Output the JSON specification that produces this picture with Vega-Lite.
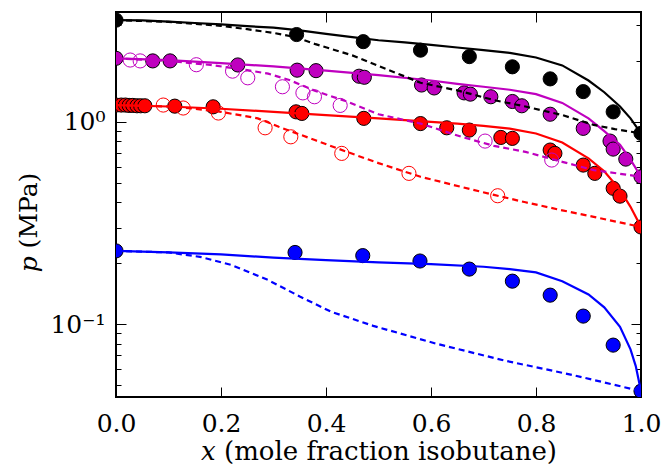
{
  "$schema": "https://vega.github.io/schema/vega-lite/v6.json",
  "width": 525,
  "height": 385,
  "autosize": {"type": "none"},
  "padding": {"left": 116, "top": 12, "right": 21, "bottom": 71},
  "background": "white",
  "datasets": {
    "pts": [
      {"s": "k", "f": "filled", "x": 0.0, "p": 3.18},
      {"s": "k", "f": "filled", "x": 0.344, "p": 2.70},
      {"s": "k", "f": "filled", "x": 0.471, "p": 2.49},
      {"s": "k", "f": "filled", "x": 0.580, "p": 2.26},
      {"s": "k", "f": "filled", "x": 0.673, "p": 2.10},
      {"s": "k", "f": "filled", "x": 0.755, "p": 1.87},
      {"s": "k", "f": "filled", "x": 0.827, "p": 1.63},
      {"s": "k", "f": "filled", "x": 0.890, "p": 1.41},
      {"s": "k", "f": "filled", "x": 0.947, "p": 1.12},
      {"s": "k", "f": "filled", "x": 1.0, "p": 0.877},
      {"s": "m", "f": "filled", "x": 0.0, "p": 2.06},
      {"s": "m", "f": "filled", "x": 0.07, "p": 2.0},
      {"s": "m", "f": "filled", "x": 0.103, "p": 2.0},
      {"s": "m", "f": "filled", "x": 0.232, "p": 1.91},
      {"s": "m", "f": "filled", "x": 0.345, "p": 1.80},
      {"s": "m", "f": "filled", "x": 0.381, "p": 1.79},
      {"s": "m", "f": "filled", "x": 0.463, "p": 1.68},
      {"s": "m", "f": "filled", "x": 0.473, "p": 1.66},
      {"s": "m", "f": "filled", "x": 0.582, "p": 1.52},
      {"s": "m", "f": "filled", "x": 0.606, "p": 1.47},
      {"s": "m", "f": "filled", "x": 0.663, "p": 1.39},
      {"s": "m", "f": "filled", "x": 0.675, "p": 1.37},
      {"s": "m", "f": "filled", "x": 0.714, "p": 1.33},
      {"s": "m", "f": "filled", "x": 0.755, "p": 1.26},
      {"s": "m", "f": "filled", "x": 0.773, "p": 1.20},
      {"s": "m", "f": "filled", "x": 0.827, "p": 1.09},
      {"s": "m", "f": "filled", "x": 0.890, "p": 0.928},
      {"s": "m", "f": "filled", "x": 0.941, "p": 0.803},
      {"s": "m", "f": "filled", "x": 0.947, "p": 0.733},
      {"s": "m", "f": "filled", "x": 0.971, "p": 0.654},
      {"s": "m", "f": "filled", "x": 1.0, "p": 0.535},
      {"s": "r", "f": "filled", "x": 0.0, "p": 1.21},
      {"s": "r", "f": "filled", "x": 0.01, "p": 1.21},
      {"s": "r", "f": "filled", "x": 0.018, "p": 1.21},
      {"s": "r", "f": "filled", "x": 0.025, "p": 1.205},
      {"s": "r", "f": "filled", "x": 0.032, "p": 1.205},
      {"s": "r", "f": "filled", "x": 0.04, "p": 1.20},
      {"s": "r", "f": "filled", "x": 0.047, "p": 1.20},
      {"s": "r", "f": "filled", "x": 0.055, "p": 1.20},
      {"s": "r", "f": "filled", "x": 0.112, "p": 1.195},
      {"s": "r", "f": "filled", "x": 0.185, "p": 1.186},
      {"s": "r", "f": "filled", "x": 0.343, "p": 1.12},
      {"s": "r", "f": "filled", "x": 0.354, "p": 1.10},
      {"s": "r", "f": "filled", "x": 0.472, "p": 1.04},
      {"s": "r", "f": "filled", "x": 0.580, "p": 0.98},
      {"s": "r", "f": "filled", "x": 0.630, "p": 0.934},
      {"s": "r", "f": "filled", "x": 0.673, "p": 0.91},
      {"s": "r", "f": "filled", "x": 0.733, "p": 0.837},
      {"s": "r", "f": "filled", "x": 0.755, "p": 0.828},
      {"s": "r", "f": "filled", "x": 0.827, "p": 0.725},
      {"s": "r", "f": "filled", "x": 0.836, "p": 0.698},
      {"s": "r", "f": "filled", "x": 0.890, "p": 0.611},
      {"s": "r", "f": "filled", "x": 0.912, "p": 0.556},
      {"s": "r", "f": "filled", "x": 0.947, "p": 0.469},
      {"s": "r", "f": "filled", "x": 0.960, "p": 0.429},
      {"s": "r", "f": "filled", "x": 1.0, "p": 0.302},
      {"s": "b", "f": "filled", "x": 0.0, "p": 0.230},
      {"s": "b", "f": "filled", "x": 0.341, "p": 0.226},
      {"s": "b", "f": "filled", "x": 0.470, "p": 0.218},
      {"s": "b", "f": "filled", "x": 0.579, "p": 0.205},
      {"s": "b", "f": "filled", "x": 0.673, "p": 0.187},
      {"s": "b", "f": "filled", "x": 0.755, "p": 0.163},
      {"s": "b", "f": "filled", "x": 0.827, "p": 0.139},
      {"s": "b", "f": "filled", "x": 0.890, "p": 0.1095},
      {"s": "b", "f": "filled", "x": 0.947, "p": 0.0787},
      {"s": "b", "f": "filled", "x": 1.0, "p": 0.0466},
      {"s": "m", "f": "open", "x": 0.027, "p": 2.02},
      {"s": "m", "f": "open", "x": 0.046, "p": 2.0},
      {"s": "m", "f": "open", "x": 0.153, "p": 1.915},
      {"s": "m", "f": "open", "x": 0.222, "p": 1.78},
      {"s": "m", "f": "open", "x": 0.251, "p": 1.65},
      {"s": "m", "f": "open", "x": 0.317, "p": 1.49},
      {"s": "m", "f": "open", "x": 0.356, "p": 1.39},
      {"s": "m", "f": "open", "x": 0.378, "p": 1.33},
      {"s": "m", "f": "open", "x": 0.427, "p": 1.205},
      {"s": "m", "f": "open", "x": 0.703, "p": 0.803},
      {"s": "m", "f": "open", "x": 0.830, "p": 0.647},
      {"s": "r", "f": "open", "x": 0.09, "p": 1.21},
      {"s": "r", "f": "open", "x": 0.128, "p": 1.17},
      {"s": "r", "f": "open", "x": 0.195, "p": 1.105},
      {"s": "r", "f": "open", "x": 0.284, "p": 0.934},
      {"s": "r", "f": "open", "x": 0.333, "p": 0.843},
      {"s": "r", "f": "open", "x": 0.430, "p": 0.698},
      {"s": "r", "f": "open", "x": 0.558, "p": 0.556},
      {"s": "r", "f": "open", "x": 0.727, "p": 0.431}
    ],
    "solid": [
      {"s": "k", "x": 0.0, "p": 3.18}, {"s": "k", "x": 0.05, "p": 3.17}, {"s": "k", "x": 0.1, "p": 3.13},
      {"s": "k", "x": 0.15, "p": 3.08}, {"s": "k", "x": 0.2, "p": 3.03}, {"s": "k", "x": 0.25, "p": 2.97},
      {"s": "k", "x": 0.3, "p": 2.92}, {"s": "k", "x": 0.35, "p": 2.83}, {"s": "k", "x": 0.4, "p": 2.72},
      {"s": "k", "x": 0.45, "p": 2.62}, {"s": "k", "x": 0.5, "p": 2.53}, {"s": "k", "x": 0.55, "p": 2.47},
      {"s": "k", "x": 0.6, "p": 2.40}, {"s": "k", "x": 0.65, "p": 2.33}, {"s": "k", "x": 0.7, "p": 2.26},
      {"s": "k", "x": 0.75, "p": 2.19}, {"s": "k", "x": 0.8, "p": 2.08}, {"s": "k", "x": 0.85, "p": 1.90},
      {"s": "k", "x": 0.9, "p": 1.60}, {"s": "k", "x": 0.93, "p": 1.40}, {"s": "k", "x": 0.96, "p": 1.19},
      {"s": "k", "x": 0.98, "p": 1.04}, {"s": "k", "x": 1.0, "p": 0.877},
      {"s": "m", "x": 0.0, "p": 2.06}, {"s": "m", "x": 0.1, "p": 2.02}, {"s": "m", "x": 0.2, "p": 1.95},
      {"s": "m", "x": 0.3, "p": 1.88}, {"s": "m", "x": 0.4, "p": 1.79}, {"s": "m", "x": 0.5, "p": 1.70},
      {"s": "m", "x": 0.6, "p": 1.60}, {"s": "m", "x": 0.65, "p": 1.54}, {"s": "m", "x": 0.7, "p": 1.49},
      {"s": "m", "x": 0.75, "p": 1.44}, {"s": "m", "x": 0.8, "p": 1.37}, {"s": "m", "x": 0.85, "p": 1.24},
      {"s": "m", "x": 0.9, "p": 1.04}, {"s": "m", "x": 0.93, "p": 0.90}, {"s": "m", "x": 0.96, "p": 0.77},
      {"s": "m", "x": 0.98, "p": 0.65}, {"s": "m", "x": 1.0, "p": 0.535},
      {"s": "r", "x": 0.0, "p": 1.21}, {"s": "r", "x": 0.1, "p": 1.19}, {"s": "r", "x": 0.2, "p": 1.16},
      {"s": "r", "x": 0.3, "p": 1.12}, {"s": "r", "x": 0.4, "p": 1.08}, {"s": "r", "x": 0.5, "p": 1.04},
      {"s": "r", "x": 0.6, "p": 1.0}, {"s": "r", "x": 0.65, "p": 0.98}, {"s": "r", "x": 0.7, "p": 0.955},
      {"s": "r", "x": 0.75, "p": 0.925}, {"s": "r", "x": 0.8, "p": 0.875}, {"s": "r", "x": 0.85, "p": 0.79},
      {"s": "r", "x": 0.9, "p": 0.66}, {"s": "r", "x": 0.93, "p": 0.57}, {"s": "r", "x": 0.96, "p": 0.46},
      {"s": "r", "x": 0.98, "p": 0.38}, {"s": "r", "x": 1.0, "p": 0.302},
      {"s": "b", "x": 0.0, "p": 0.230}, {"s": "b", "x": 0.1, "p": 0.226}, {"s": "b", "x": 0.2, "p": 0.221},
      {"s": "b", "x": 0.3, "p": 0.213}, {"s": "b", "x": 0.4, "p": 0.207}, {"s": "b", "x": 0.5, "p": 0.202},
      {"s": "b", "x": 0.6, "p": 0.198}, {"s": "b", "x": 0.7, "p": 0.192}, {"s": "b", "x": 0.75, "p": 0.187},
      {"s": "b", "x": 0.8, "p": 0.180}, {"s": "b", "x": 0.85, "p": 0.163}, {"s": "b", "x": 0.9, "p": 0.140},
      {"s": "b", "x": 0.93, "p": 0.121}, {"s": "b", "x": 0.96, "p": 0.097}, {"s": "b", "x": 0.98, "p": 0.075},
      {"s": "b", "x": 0.99, "p": 0.062}, {"s": "b", "x": 1.0, "p": 0.0466}
    ],
    "dashed": [
      {"s": "k", "x": 0.0, "p": 3.18}, {"s": "k", "x": 0.1, "p": 3.12}, {"s": "k", "x": 0.2, "p": 2.98},
      {"s": "k", "x": 0.25, "p": 2.87}, {"s": "k", "x": 0.3, "p": 2.75}, {"s": "k", "x": 0.34, "p": 2.63},
      {"s": "k", "x": 0.38, "p": 2.42}, {"s": "k", "x": 0.45, "p": 2.13}, {"s": "k", "x": 0.5, "p": 1.89},
      {"s": "k", "x": 0.58, "p": 1.56}, {"s": "k", "x": 0.65, "p": 1.43}, {"s": "k", "x": 0.72, "p": 1.28},
      {"s": "k", "x": 0.78, "p": 1.19}, {"s": "k", "x": 0.85, "p": 1.08}, {"s": "k", "x": 0.91, "p": 0.965},
      {"s": "k", "x": 0.95, "p": 0.92}, {"s": "k", "x": 1.0, "p": 0.877},
      {"s": "m", "x": 0.0, "p": 2.06}, {"s": "m", "x": 0.1, "p": 2.0}, {"s": "m", "x": 0.18, "p": 1.91},
      {"s": "m", "x": 0.25, "p": 1.80}, {"s": "m", "x": 0.29, "p": 1.73}, {"s": "m", "x": 0.33, "p": 1.61},
      {"s": "m", "x": 0.38, "p": 1.42}, {"s": "m", "x": 0.44, "p": 1.26}, {"s": "m", "x": 0.5, "p": 1.09},
      {"s": "m", "x": 0.58, "p": 0.98}, {"s": "m", "x": 0.66, "p": 0.84}, {"s": "m", "x": 0.72, "p": 0.76},
      {"s": "m", "x": 0.78, "p": 0.71}, {"s": "m", "x": 0.85, "p": 0.634}, {"s": "m", "x": 0.91, "p": 0.577},
      {"s": "m", "x": 1.0, "p": 0.535},
      {"s": "r", "x": 0.0, "p": 1.21}, {"s": "r", "x": 0.1, "p": 1.19}, {"s": "r", "x": 0.15, "p": 1.16},
      {"s": "r", "x": 0.2, "p": 1.12}, {"s": "r", "x": 0.27, "p": 1.04}, {"s": "r", "x": 0.31, "p": 0.945},
      {"s": "r", "x": 0.38, "p": 0.81}, {"s": "r", "x": 0.44, "p": 0.71}, {"s": "r", "x": 0.5, "p": 0.625},
      {"s": "r", "x": 0.58, "p": 0.535}, {"s": "r", "x": 0.66, "p": 0.475}, {"s": "r", "x": 0.72, "p": 0.435},
      {"s": "r", "x": 0.78, "p": 0.40}, {"s": "r", "x": 0.85, "p": 0.365}, {"s": "r", "x": 0.91, "p": 0.339},
      {"s": "r", "x": 1.0, "p": 0.302},
      {"s": "b", "x": 0.0, "p": 0.230}, {"s": "b", "x": 0.1, "p": 0.226}, {"s": "b", "x": 0.16, "p": 0.215},
      {"s": "b", "x": 0.22, "p": 0.196}, {"s": "b", "x": 0.29, "p": 0.165}, {"s": "b", "x": 0.35, "p": 0.137},
      {"s": "b", "x": 0.41, "p": 0.115}, {"s": "b", "x": 0.49, "p": 0.098}, {"s": "b", "x": 0.61, "p": 0.080},
      {"s": "b", "x": 0.74, "p": 0.066}, {"s": "b", "x": 0.87, "p": 0.056}, {"s": "b", "x": 1.0, "p": 0.0466}
    ]
  },
  "layer": [
    {
      "data": {"name": "pts"},
      "transform": [{"filter": "datum.f == 'filled'"}],
      "mark": {"type": "point", "shape": "circle", "filled": true, "size": 200, "stroke": "black", "strokeWidth": 1, "opacity": 1, "clip": true},
      "encoding": {
        "x": {"field": "x", "type": "quantitative",
              "scale": {"domain": [0, 1], "nice": false, "zero": false},
              "axis": {"orient": "bottom", "values": [0, 0.2, 0.4, 0.6, 0.8, 1.0], "format": ".1f",
                       "tickSize": -10, "labelPadding": 24, "labelFlush": false, "labelOverlap": false,
                       "title": "𝑥 (mole fraction isobutane)", "titleY": 62, "titleBaseline": "alphabetic", "titleFontSize": 26}},
        "y": {"field": "p", "type": "quantitative",
              "scale": {"type": "log", "domain": [0.0436, 3.49], "nice": false},
              "axis": {"orient": "left", "values": [0.1, 1],
                       "labelExpr": "datum.value >= 0.5 ? '10⁰' : '10⁻¹'",
                       "tickSize": -10, "labelPadding": 21, "labelFlush": false,
                       "title": "𝑝 (MPa)", "titleX": -88, "titleY": 210, "titleAngle": 270,
                       "titleBaseline": "middle", "titleAlign": "center"}},
        "fill": {"field": "s", "type": "nominal", "legend": null,
                 "scale": {"domain": ["k", "m", "r", "b"], "range": ["#000000", "#bf00bf", "#ff0000", "#0000ff"]}}
      }
    },
    {
      "data": {"name": "pts"},
      "transform": [{"filter": "datum.f == 'open'"}],
      "mark": {"type": "point", "shape": "circle", "filled": false, "size": 200, "strokeWidth": 1, "opacity": 1, "clip": true},
      "encoding": {
        "x": {"field": "x", "type": "quantitative",
              "axis": {"orient": "top", "values": [0, 0.2, 0.4, 0.6, 0.8, 1.0], "tickSize": -10, "labels": false, "title": null}},
        "y": {"field": "p", "type": "quantitative",
              "axis": {"orient": "right", "values": [0.1, 1], "tickSize": -10, "labels": false, "title": null}},
        "stroke": {"field": "s", "type": "nominal", "legend": null,
                   "scale": {"domain": ["k", "m", "r", "b"], "range": ["#000000", "#bf00bf", "#ff0000", "#0000ff"]}}
      }
    },
    {
      "data": {"name": "solid"},
      "mark": {"type": "line", "strokeWidth": 2.2, "clip": true},
      "encoding": {
        "x": {"field": "x", "type": "quantitative", "axis": null},
        "y": {"field": "p", "type": "quantitative",
              "axis": {"orient": "left", "values": [0.05, 0.06, 0.07, 0.08, 0.09, 0.2, 0.3, 0.4, 0.5, 0.6, 0.7, 0.8, 0.9, 2, 3],
                       "tickSize": -5, "labels": false, "title": null}},
        "stroke": {"field": "s", "type": "nominal", "legend": null,
                   "scale": {"domain": ["k", "m", "r", "b"], "range": ["#000000", "#bf00bf", "#ff0000", "#0000ff"]}}
      }
    },
    {
      "data": {"name": "dashed"},
      "mark": {"type": "line", "strokeWidth": 2.2, "strokeDash": [6, 4], "clip": true},
      "encoding": {
        "x": {"field": "x", "type": "quantitative", "axis": null},
        "y": {"field": "p", "type": "quantitative",
              "axis": {"orient": "right", "values": [0.05, 0.06, 0.07, 0.08, 0.09, 0.2, 0.3, 0.4, 0.5, 0.6, 0.7, 0.8, 0.9, 2, 3],
                       "tickSize": -5, "labels": false, "title": null}},
        "stroke": {"field": "s", "type": "nominal", "legend": null,
                   "scale": {"domain": ["k", "m", "r", "b"], "range": ["#000000", "#bf00bf", "#ff0000", "#0000ff"]}}
      }
    }
  ],
  "resolve": {"axis": {"x": "independent", "y": "independent"}},
  "config": {
    "view": {"stroke": "black", "strokeWidth": 2},
    "axis": {
      "domain": false, "grid": false,
      "labelFont": "DejaVu Serif", "titleFont": "DejaVu Serif",
      "labelFontSize": 25, "titleFontSize": 25, "titleFontWeight": "normal",
      "labelColor": "black", "titleColor": "black",
      "tickColor": "black", "tickWidth": 1
    }
  }
}
